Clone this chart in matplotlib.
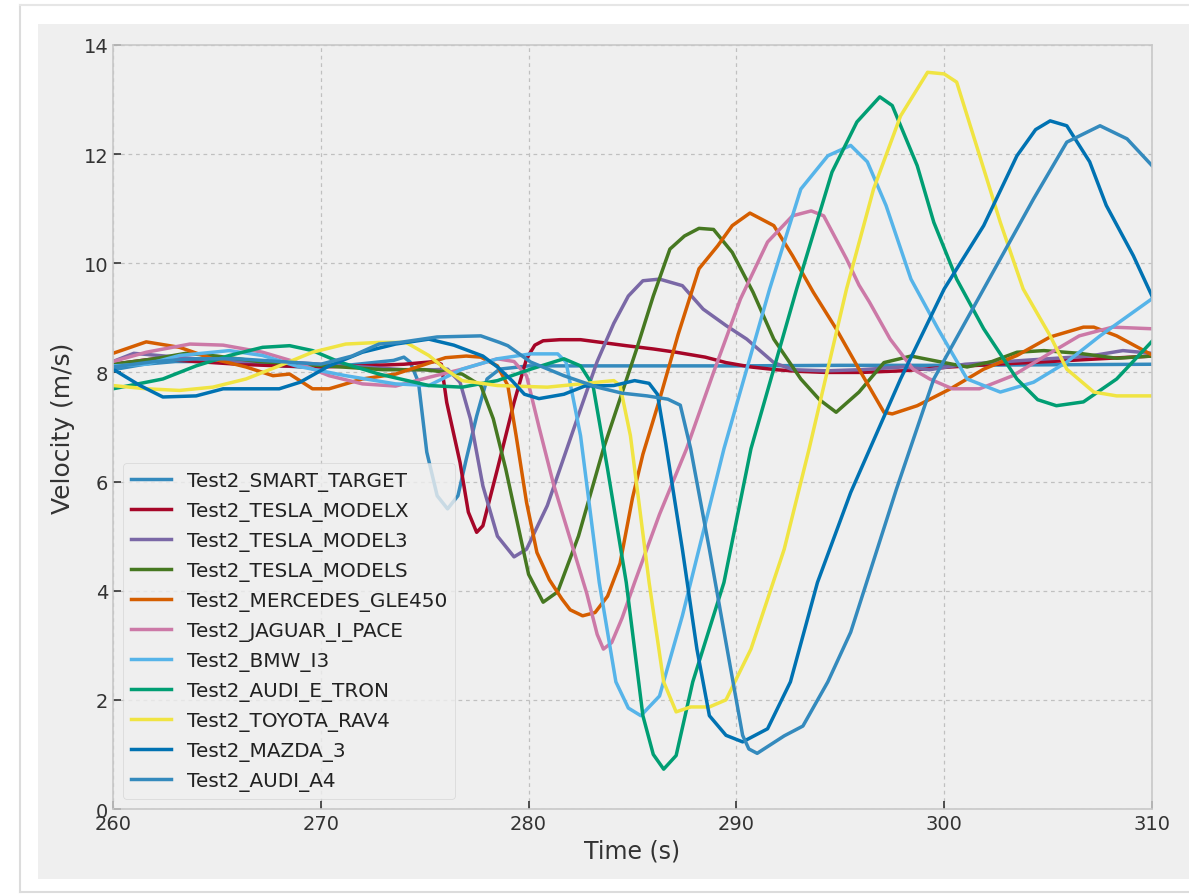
import matplotlib
matplotlib.use("Agg")
import matplotlib.pyplot as plt
from matplotlib.patches import Rectangle
from matplotlib.lines import Line2D

plt.style.use("bmh")

# ---------------- data ----------------
labels = ["Test2_SMART_TARGET", "Test2_TESLA_MODELX", "Test2_TESLA_MODEL3",
          "Test2_TESLA_MODELS", "Test2_MERCEDES_GLE450", "Test2_JAGUAR_I_PACE",
          "Test2_BMW_I3", "Test2_AUDI_E_TRON", "Test2_TOYOTA_RAV4",
          "Test2_MAZDA_3", "Test2_AUDI_A4"]

t_smart = [260, 261.5, 263, 265, 267, 269, 271, 272.5, 273.5, 274.0, 274.3, 274.7, 275.1,
           275.6, 276.1, 276.6, 277.0, 277.5, 278.0, 278.6, 280, 285, 290, 295, 300, 305, 310]
v_smart = [8.05, 8.15, 8.2, 8.2, 8.15, 8.1, 8.12, 8.18, 8.22, 8.28, 8.19, 7.82, 6.54,
           5.74, 5.5, 5.74, 6.41, 7.2, 7.88, 8.06, 8.12, 8.12, 8.12, 8.13, 8.13, 8.14, 8.15]

t_modelx = [260, 262, 264, 266, 268, 270, 272, 274, 275.5, 275.8, 276.06, 276.7, 277.1, 277.5,
            277.8, 278.5, 279.3, 279.9, 280.3, 280.7, 281.5, 282.5, 283.5, 284.7, 286, 287.1,
            288.5, 289.5, 290.7, 291.9, 293, 294.3, 296, 298, 300.3, 302.5, 305.1, 307.5, 310]
v_modelx = [8.15, 8.25, 8.2, 8.15, 8.12, 8.1, 8.12, 8.15, 8.2, 8.15, 7.45, 6.35, 5.44, 5.07,
            5.19, 6.23, 7.45, 8.25, 8.5, 8.58, 8.6, 8.6, 8.55, 8.49, 8.43, 8.37,
            8.28, 8.18, 8.1, 8.05, 8.02, 8.0, 8.0, 8.03, 8.1, 8.15, 8.2, 8.25, 8.3]

t_model3 = [260, 261, 262.5, 264, 266, 268, 270, 272, 274, 275.5, 276.1, 276.7, 277.2, 277.8,
            278.5, 279.3, 279.9, 280.9, 282.5, 283.3, 284.1, 284.8, 285.5, 286.3, 287.4, 288.4,
            289.5, 290.5, 291.8, 292.7, 294.3, 296, 298, 299.3, 301, 303, 305, 307, 308.6, 310]
v_model3 = [8.2, 8.35, 8.3, 8.25, 8.2, 8.2, 8.15, 8.1, 8.05, 8.05, 8.06, 7.82, 7.15, 5.92,
            5.0, 4.62, 4.76, 5.56, 7.33, 8.2, 8.9, 9.4, 9.68, 9.71, 9.59, 9.16,
            8.86, 8.61, 8.18, 8.05, 8.03, 8.05, 8.1, 8.05, 8.15, 8.2, 8.25, 8.3, 8.4, 8.35]

t_models = [260, 262, 263.5, 265, 267, 269, 271, 273, 275, 276.8, 277.7, 278.3, 278.9, 279.6,
            280.0, 280.7, 281.4, 282.4, 283.6, 285.2, 286.0, 286.8, 287.5, 288.2, 288.9, 289.8,
            290.8, 291.8, 293.1, 294.0, 294.8, 295.9, 297.1, 298.4, 300, 301.1, 302.3, 303.5,
            304.8, 306.5, 308.3, 310]
v_models = [8.15, 8.25, 8.35, 8.3, 8.2, 8.15, 8.1, 8.05, 8.05, 7.97, 7.76, 7.15, 6.23, 5.0,
            4.3, 3.79, 3.98, 5.0, 6.6, 8.43, 9.4, 10.26, 10.5, 10.64, 10.62, 10.2,
            9.47, 8.61, 7.88, 7.5, 7.27, 7.64, 8.18, 8.3, 8.18, 8.1, 8.2, 8.37,
            8.4, 8.35, 8.26, 8.3]

t_merc = [260, 261.6, 263.2, 264.8, 266.4, 267.7, 268.5, 269.6, 270.4, 272, 273.6, 274.8, 276,
          277.0, 277.7, 278.5, 279.0, 279.4, 279.9, 280.4, 281.0, 281.6, 282.0, 282.6, 283.2,
          283.8, 284.4, 285.0, 285.5, 286.3, 287.2, 288.2, 289.1, 289.8, 290.65, 291.8, 292.7,
          293.7, 294.8, 295.9, 297.1, 297.5, 298.7, 300.3, 301.9, 303.5, 305.1, 306.7, 307.2,
          308.3, 310]
v_merc = [8.35, 8.56, 8.46, 8.25, 8.1, 7.94, 7.97, 7.7, 7.7, 7.88, 7.97, 8.12, 8.27,
          8.3, 8.28, 8.12, 7.76, 6.84, 5.62, 4.7, 4.2, 3.85, 3.65, 3.54, 3.6,
          3.9, 4.5, 5.7, 6.5, 7.5, 8.7, 9.9, 10.32, 10.69, 10.92, 10.69, 10.14,
          9.47, 8.8, 8.06, 7.27, 7.24, 7.39, 7.7, 8.06, 8.31, 8.65, 8.83, 8.83,
          8.67, 8.32]

t_jaguar = [260, 261.6, 263.7, 265.3, 267.2, 268.8, 270.4, 272, 273.6, 275.2, 276.8, 278.5,
            279.3, 279.9, 280.5, 281.2, 282.0, 282.8, 283.3, 283.6, 284.0, 284.5, 285.1, 286.3,
            287.6, 288.9, 290.2, 291.5, 292.7, 293.6, 294.2, 295.3, 295.9, 296.4, 297.4, 298.5,
            299.3, 300.4, 301.7, 303.3, 304.9, 306.5, 308.1, 310]
v_jaguar = [8.2, 8.37, 8.52, 8.5, 8.37, 8.19, 7.94, 7.79, 7.75, 7.91, 8.06, 8.25,
            8.2, 7.94, 7.0, 5.95, 4.95, 3.95, 3.2, 2.93, 3.05, 3.5, 4.15, 5.4,
            6.6, 8.0, 9.35, 10.39, 10.87, 10.96, 10.87, 10.08, 9.6, 9.29, 8.61, 8.06,
            7.88, 7.7, 7.7, 7.94, 8.31, 8.67, 8.83, 8.8]

t_bmw = [260, 261.6, 263.2, 265.6, 267.2, 268.8, 271.2, 273.6, 275.2, 276.8, 278.5, 280.1,
         281.4, 281.8, 282.5, 283.4, 284.2, 284.8, 285.4, 286.3, 287.4, 289.4, 291.6, 293.1,
         294.4, 295.5, 296.3, 297.2, 298.4, 299.7, 301.1, 302.7, 304.3, 305.9, 307.5, 310]
v_bmw = [8.12, 8.15, 8.31, 8.4, 8.31, 8.12, 7.94, 7.79, 7.76, 8.06, 8.25, 8.34,
         8.34, 8.19, 6.84, 4.15, 2.33, 1.85, 1.71, 2.07, 3.54, 6.6, 9.53, 11.36,
         11.97, 12.16, 11.86, 11.06, 9.71, 8.8, 7.88, 7.64, 7.82, 8.19, 8.67, 9.35]

t_etron = [260, 262.4, 264, 265.6, 267.2, 268.5, 269.6, 270.9, 272.8, 275.2, 276.8, 278.5,
           280.1, 281.7, 282.5, 283.1, 283.8, 284.7, 285.5, 286.0, 286.5, 287.1, 287.9, 289.4,
           290.7, 292.9, 294.6, 295.8, 296.9, 297.5, 298.7, 299.5, 300.6, 301.9, 303.5, 304.5,
           305.4, 306.7, 308.3, 310]
v_etron = [7.7, 7.88, 8.12, 8.31, 8.46, 8.49, 8.4, 8.19, 7.97, 7.76, 7.73, 7.85,
           8.06, 8.25, 8.12, 7.76, 6.23, 4.15, 1.71, 1.0, 0.73, 0.98, 2.33, 4.15,
           6.6, 9.53, 11.67, 12.59, 13.05, 12.89, 11.79, 10.75, 9.71, 8.8, 7.88, 7.5,
           7.39, 7.46, 7.88, 8.57]

t_rav4 = [260, 261.6, 263.2, 264.8, 266.4, 268, 269.6, 271.2, 272.8, 274.1, 275.2, 276.0,
          276.8, 278.5, 280.9, 282.5, 284.1, 284.4, 284.9, 285.8, 286.5, 287.1, 287.8, 288.7,
          289.5, 290.7, 292.3, 293.5, 295.3, 296.6, 297.9, 299.2, 300.0, 300.6, 301.6, 302.7,
          303.8, 305.1, 305.9, 307.2, 308.3, 310]
v_rav4 = [7.76, 7.7, 7.67, 7.73, 7.88, 8.12, 8.37, 8.52, 8.55, 8.55, 8.31, 8.06,
          7.85, 7.76, 7.73, 7.79, 7.85, 7.76, 6.84, 4.15, 2.33, 1.78, 1.87, 1.87,
          2.0, 2.93, 4.76, 6.6, 9.53, 11.36, 12.7, 13.5, 13.47, 13.32, 12.1, 10.75,
          9.53, 8.67, 8.06, 7.64, 7.57, 7.57]

t_mazda = [260, 261.3, 262.4, 264, 265.3, 266.4, 268, 269, 270.4, 272, 273.6, 275.2, 276.4,
           277.8, 278.5, 279.2, 279.8, 280.5, 281.7, 282.7, 284.1, 285.1, 285.8, 286.2, 286.6,
           287.4, 288.1, 288.7, 289.5, 290.3, 291.5, 292.6, 293.9, 295.5, 297.9, 300, 301.9,
           303.5, 304.4, 305.1, 305.9, 307, 307.8, 309.1, 310]
v_mazda = [8.06, 7.76, 7.55, 7.57, 7.7, 7.7, 7.7, 7.82, 8.12, 8.37, 8.52, 8.61, 8.5,
           8.3, 8.1, 7.85, 7.6, 7.52, 7.6, 7.75, 7.76, 7.85, 7.8, 7.6, 6.7,
           4.76, 2.93, 1.71, 1.35, 1.23, 1.47, 2.33, 4.15, 5.8, 7.88, 9.53, 10.69,
           11.97, 12.45, 12.61, 12.52, 11.86, 11.06, 10.14, 9.4]

t_a4 = [260, 262, 264, 266, 268, 270, 271.5, 272.8, 273.8, 275.6, 277.7, 278.6, 279.0, 280.1,
        281.7, 283.3, 284.5, 285.7, 286.7, 287.3, 287.8, 288.7, 289.7, 290.3, 290.6, 291.0,
        292.3, 293.2, 294.4, 295.5, 297.7, 299.5, 301.9, 304.3, 305.9, 307.5, 308.8, 310]
v_a4 = [8.1, 8.2, 8.25, 8.25, 8.2, 8.15, 8.3, 8.52, 8.55, 8.65, 8.67, 8.55, 8.49, 8.19,
        7.94, 7.73, 7.62, 7.57, 7.51, 7.4, 6.6, 4.76, 2.62, 1.35, 1.1, 1.02,
        1.34, 1.52, 2.33, 3.24, 5.86, 7.88, 9.53, 11.18, 12.22, 12.52, 12.28, 11.79]

series_t = [t_smart, t_modelx, t_model3, t_models, t_merc, t_jaguar, t_bmw, t_etron,
            t_rav4, t_mazda, t_a4]
series_v = [v_smart, v_modelx, v_model3, v_models, v_merc, v_jaguar, v_bmw, v_etron,
            v_rav4, v_mazda, v_a4]

x_ticks = [260, 270, 280, 290, 300, 310]
y_ticks = [0, 2, 4, 6, 8, 10, 12, 14]

# ---------------- figure ----------------
W, H = 1189, 895
fig = plt.figure(figsize=(W / 100, H / 100), dpi=100, facecolor="white")
# grey screenshot panel
fig.patches.append(Rectangle((38 / W, 1 - 880 / H), (W - 38) / W, (880 - 25) / H,
                             transform=fig.transFigure, facecolor="#efefef",
                             edgecolor="none", zorder=-10))
fig.lines.append(Line2D([20 / W, 20 / W], [1 - 893 / H, 1 - 6 / H], transform=fig.transFigure,
                        color="#dcdcdc", lw=1.5))
fig.lines.append(Line2D([20 / W, 1], [1 - 6 / H, 1 - 6 / H], transform=fig.transFigure,
                        color="#e6e6e6", lw=1.5))
fig.lines.append(Line2D([20 / W, 1], [1 - 893 / H, 1 - 893 / H], transform=fig.transFigure,
                        color="#dcdcdc", lw=1.5))

ax = fig.add_axes([113 / W, 1 - 810 / H, (1152 - 113) / W, (810 - 46) / H])
ax.set_facecolor("#efefef")

for t, v, lab in zip(series_t, series_v, labels):
    ax.plot(t, v, lw=2.5, label=lab, solid_joinstyle="round")

ax.set_xlim(260, 310)
ax.set_ylim(0, 14)
ax.set_xticks(x_ticks)
ax.set_yticks(y_ticks)
ax.tick_params(axis="both", direction="in", length=6, width=1.2, color="#333333",
               labelsize=14, labelcolor="#333333")
ax.grid(True, color="#c0c0c0", linestyle=(0, (3, 3)), linewidth=0.9)
for s in ax.spines.values():
    s.set_color("#c8c8c8")
    s.set_linewidth(1.2)

ax.set_xlabel("Time (s)", fontsize=17, color="#333333", labelpad=4)
ax.set_ylabel("Velocity (m/s)", fontsize=18, color="#333333", labelpad=6)

leg = ax.legend(loc="lower left", fontsize=14.4, frameon=True, labelspacing=0.5,
                handlelength=2.0)
leg.get_frame().set_facecolor("#efefef")
leg.get_frame().set_edgecolor("#d0d0d0")
for txt in leg.get_texts():
    txt.set_color("#222222")

fig.savefig("out.png", dpi=100, facecolor=fig.get_facecolor())
